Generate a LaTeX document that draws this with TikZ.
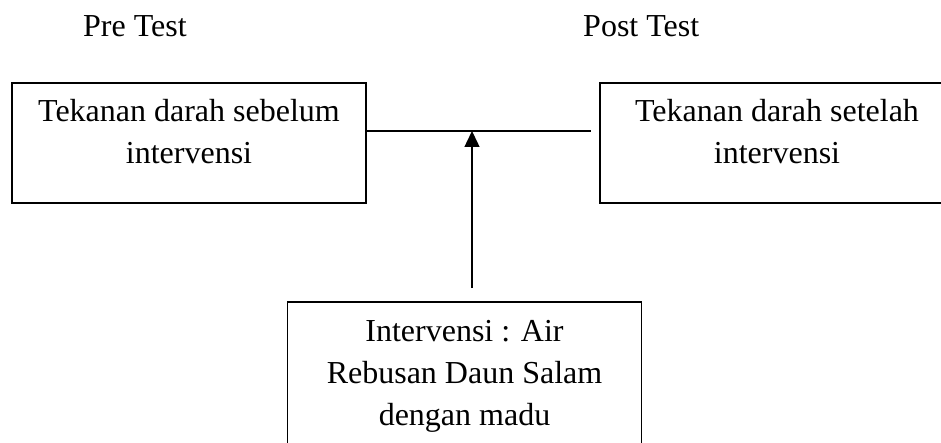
\documentclass[tikz,border=0pt]{standalone}
\usepackage{fontspec}
\setmainfont{Liberation Serif}
\usetikzlibrary{arrows.meta}
\begin{document}
\begin{tikzpicture}[x=1pt,y=1pt,
  box/.style={draw=black, line width=1.8pt, minimum width=354pt, inner sep=0pt},
  txt/.style={anchor=base, inner sep=0pt, font=\fontsize{32}{42}\selectfont},
  conn/.style={draw=black, line width=1.4pt}]
\useasboundingbox (0,0) rectangle (941,-443);
\clip (0,0) rectangle (941,-443);

% headings
\node[txt, anchor=base west] (pre) at (83,-37) {Pre Test};
\node[txt, anchor=base west] (post) at (583,-37) {Post Test};

% boxes
\node[box, minimum height=120pt] (lb) at (189,-143) {};
\node[box, minimum height=120pt] (rb) at (777,-143) {};
\node[box, minimum height=160pt] (bb) at (464.5,-382) {};

% box texts
\node[txt] (lb1) at (189,-122) {Tekanan darah sebelum};
\node[txt] (lb2) at (189,-164) {intervensi};
\node[txt] (rb1) at (777,-122) {Tekanan darah setelah};
\node[txt] (rb2) at (777,-164) {intervensi};
\node[txt] (bb1) at (464.5,-341) {Intervensi : Air};
\node[txt] (bb2) at (464.5,-383) {Rebusan Daun Salam};
\node[txt] (bb3) at (464.5,-425) {dengan madu};

% connectors
\coordinate (lineend) at (591,-131);
\coordinate (junction) at (472,-131);
\coordinate (arrowfoot) at (472,-288);
\draw[conn] ([yshift=12pt]lb.east) -- (lineend);
\draw[conn, -{Triangle[length=16pt,width=15pt]}] (arrowfoot) -- (junction);
\end{tikzpicture}
\end{document}
